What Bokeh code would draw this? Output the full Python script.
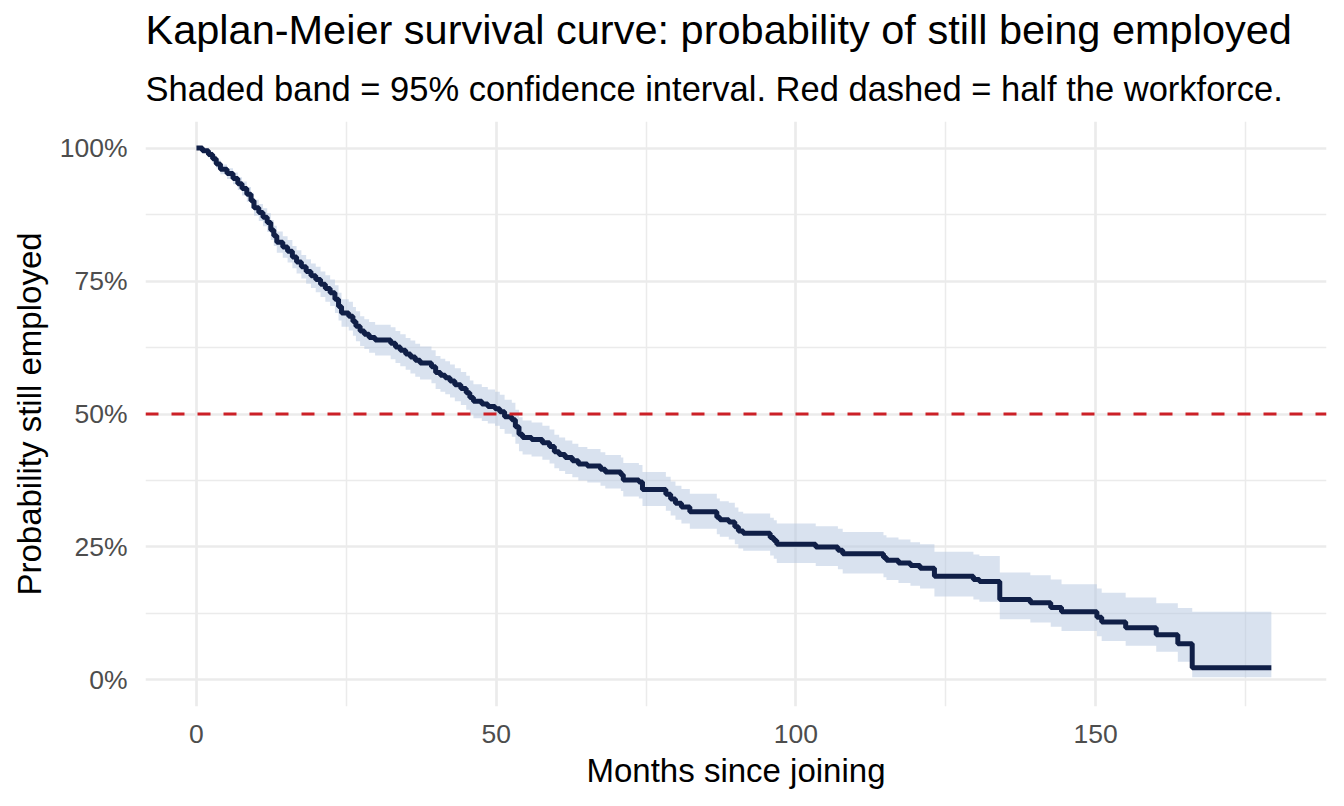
from bokeh.plotting import figure
from bokeh.models import ColumnDataSource, Range1d, FixedTicker, NumeralTickFormatter, Span, Title
from bokeh.embed import file_html
from bokeh.resources import INLINE

# ---- data ----
months = [0.0, 1.0, 2.0, 2.7, 3.3, 4.0, 5.1, 6.1, 6.9, 7.6, 8.4, 9.1, 9.6, 10.4, 11.1, 11.8,
          12.4, 12.9, 13.4, 14.4, 15.2, 16.0, 16.7, 17.5, 18.3, 19.1, 19.9, 20.7, 21.5, 22.3,
          23.1, 23.7, 24.2, 25.4, 26.1, 26.6, 27.3, 28.0, 28.8, 29.8, 32.4, 33.2, 34.0, 34.9,
          35.7, 36.5, 37.3, 39.2, 39.9, 40.7, 41.5, 42.3, 43.1, 44.1, 45.0, 45.6, 46.2, 47.6,
          48.6, 49.8, 50.6, 51.4, 52.6, 53.2, 53.8, 54.4, 55.9, 57.7, 58.9, 59.7, 60.5, 61.5,
          62.7, 63.7, 65.2, 67.4, 68.2, 70.8, 71.2, 73.8, 74.4, 78.3, 79.1, 79.9, 80.9, 82.3,
          86.8, 87.3, 88.8, 89.8, 90.4, 91.2, 95.7, 96.3, 96.8, 103.3, 107.0, 107.8, 114.6,
          115.1, 117.1, 119.1, 120.7, 123.1, 129.6, 130.6, 134.0, 139.1, 142.5, 144.3, 150.2,
          151.0, 155.0, 160.1, 163.7, 166.1, 179.3]
surv_pct = [100.0, 99.5, 98.8, 98.0, 97.0, 96.0, 95.2, 94.3, 93.3, 92.4, 91.3, 90.1, 88.8, 87.9,
            87.0, 86.0, 84.6, 83.5, 82.3, 81.4, 80.6, 79.5, 78.6, 77.7, 76.8, 76.0, 75.3, 74.4,
            73.6, 72.8, 71.6, 70.2, 69.0, 68.4, 67.4, 66.5, 65.6, 65.0, 64.4, 63.9, 63.3, 62.6,
            62.0, 61.3, 60.7, 60.1, 59.6, 58.9, 57.8, 57.3, 56.8, 56.2, 55.5, 54.8, 54.0, 53.1,
            52.4, 51.9, 51.4, 51.0, 50.4, 49.5, 48.9, 47.6, 46.2, 45.6, 45.2, 44.6, 43.9, 42.9,
            42.4, 41.8, 41.2, 40.6, 40.2, 39.6, 39.1, 38.6, 37.6, 37.2, 35.8, 34.9, 34.0, 33.2,
            32.5, 31.6, 30.6, 30.1, 29.7, 28.8, 28.0, 27.6, 26.8, 26.2, 25.5, 25.0, 24.4, 23.7,
            23.0, 22.5, 22.0, 21.5, 21.0, 19.5, 18.9, 18.5, 15.1, 14.5, 13.6, 12.8, 11.8, 10.9,
            9.8, 8.5, 6.8, 2.3, 2.3]
lower_pct = [100.0, 99.1, 98.2, 97.3, 96.2, 95.1, 94.2, 93.2, 92.1, 91.1, 89.9, 88.6, 87.3, 86.3,
             85.3, 84.2, 82.7, 81.6, 80.3, 79.4, 78.5, 77.4, 76.4, 75.5, 74.5, 73.7, 72.9, 72.0,
             71.1, 70.3, 69.0, 67.6, 66.4, 65.7, 64.7, 63.7, 62.8, 62.2, 61.5, 61.0, 60.3, 59.6,
             59.0, 58.3, 57.6, 57.0, 56.5, 55.8, 54.7, 54.2, 53.7, 53.1, 52.4, 51.7, 50.8, 49.9,
             49.2, 48.7, 48.2, 47.8, 47.2, 46.3, 45.7, 44.4, 43.0, 42.4, 42.0, 41.4, 40.7, 39.8,
             39.3, 38.7, 38.1, 37.5, 37.1, 36.5, 36.0, 35.5, 34.5, 34.1, 32.7, 31.8, 30.9, 30.1,
             29.4, 28.4, 27.4, 26.9, 26.4, 25.5, 24.7, 24.3, 23.4, 22.8, 22.0, 21.4, 20.8, 20.0,
             19.3, 18.8, 18.2, 17.7, 17.2, 15.7, 15.1, 14.7, 11.4, 10.8, 10.0, 9.2, 8.2, 7.3,
             6.4, 5.3, 3.4, 0.5, 0.5]
upper_pct = [100.0, 99.9, 99.4, 98.7, 97.8, 96.9, 96.2, 95.4, 94.5, 93.7, 92.7, 91.6, 90.3, 89.5,
             88.7, 87.8, 86.5, 85.4, 84.3, 83.4, 82.7, 81.6, 80.8, 79.9, 79.1, 78.3, 77.7, 76.8,
             76.1, 75.3, 74.2, 72.8, 71.6, 71.1, 70.1, 69.3, 68.4, 67.8, 67.3, 66.8, 66.3, 65.6,
             65.0, 64.3, 63.8, 63.2, 62.7, 62.0, 60.9, 60.4, 59.9, 59.3, 58.6, 57.9, 57.2, 56.3,
             55.6, 55.1, 54.6, 54.2, 53.6, 52.7, 52.1, 50.8, 49.4, 48.8, 48.4, 47.8, 47.1, 46.1,
             45.6, 45.0, 44.4, 43.8, 43.4, 42.8, 42.3, 41.8, 40.8, 40.4, 39.1, 38.2, 37.3, 36.5,
             35.9, 35.0, 34.1, 33.6, 33.3, 32.4, 31.6, 31.3, 30.5, 30.0, 29.4, 28.9, 28.4, 27.8,
             27.2, 26.8, 26.4, 25.9, 25.5, 24.1, 23.6, 23.3, 20.2, 19.7, 18.9, 18.0, 17.2, 16.4,
             15.5, 14.4, 13.5, 12.8, 12.8]
x_ticks = [0, 50, 100, 150]
x_minor_ticks = [25, 75, 125, 175]
y_ticks = [0.0, 0.25, 0.5, 0.75, 1.0]
y_minor_ticks = [0.125, 0.375, 0.625, 0.875]
half_level = 0.5

title_text = "Kaplan-Meier survival curve: probability of still being employed"
subtitle_text = "Shaded band = 95% confidence interval. Red dashed = half the workforce."
x_label = "Months since joining"
y_label = "Probability still employed"

FONT = "Liberation Sans"

src = ColumnDataSource(dict(
    t=months,
    s=[v / 100 for v in surv_pct],
    lo=[v / 100 for v in lower_pct],
    hi=[v / 100 for v in upper_pct],
))

p = figure(width=1328, height=798, output_backend="svg", toolbar_location=None, title=None,
           x_range=Range1d(-8.5, 188.5), y_range=Range1d(-0.05, 1.05),
           min_border_left=145, min_border_right=2, min_border_top=121, min_border_bottom=92)
p.outline_line_color = None
p.background_fill_color = "white"
p.border_fill_color = "white"

# titles (subtitle first = closest to the frame)
p.add_layout(Title(text=subtitle_text, text_font=FONT, text_font_size="34.5px",
                   text_font_style="normal", text_color="black", align="left", standoff=27), "above")
p.add_layout(Title(text=title_text, text_font=FONT, text_font_size="41.5px",
                   text_font_style="normal", text_color="black", align="left", standoff=4), "above")

# band and curve
p.varea_step(x="t", y1="lo", y2="hi", step_mode="after", source=src,
             fill_color="#b3c6e0", fill_alpha=0.5)
p.step(x="t", y="s", mode="after", source=src, line_color="#101f47", line_width=5)

p.add_layout(Span(location=half_level, dimension="width", line_color="#cc2027",
                  line_width=3, line_dash="13 13"))

# axes
xt = FixedTicker(ticks=x_ticks, minor_ticks=x_minor_ticks)
yt = FixedTicker(ticks=y_ticks, minor_ticks=y_minor_ticks)
p.xaxis.ticker = xt
p.yaxis.ticker = yt
p.xgrid.ticker = xt
p.ygrid.ticker = yt
p.yaxis.formatter = NumeralTickFormatter(format="0%")

for ax in (p.xaxis[0], p.yaxis[0]):
    ax.axis_line_color = None
    ax.major_tick_line_color = None
    ax.minor_tick_line_color = None
    ax.major_tick_out = 0
    ax.major_tick_in = 0
    ax.minor_tick_out = 0
    ax.minor_tick_in = 0
    ax.major_label_text_font = FONT
    ax.major_label_text_font_size = "26.5px"
    ax.major_label_text_color = "#4d4d4d"
    ax.axis_label_text_font = FONT
    ax.axis_label_text_font_size = "33px"
    ax.axis_label_text_font_style = "normal"
    ax.axis_label_text_color = "black"

p.xaxis.axis_label = x_label
p.yaxis.axis_label = y_label
p.xaxis.major_label_standoff = 18
p.yaxis.major_label_standoff = 18
p.xaxis.axis_label_standoff = 6
p.yaxis.axis_label_standoff = 9

for g in (p.xgrid[0], p.ygrid[0]):
    g.grid_line_color = "#ebebeb"
    g.grid_line_width = 2.7
    g.minor_grid_line_color = "#ebebeb"
    g.minor_grid_line_width = 1.5

open("out.html", "w").write(file_html(p, INLINE))
